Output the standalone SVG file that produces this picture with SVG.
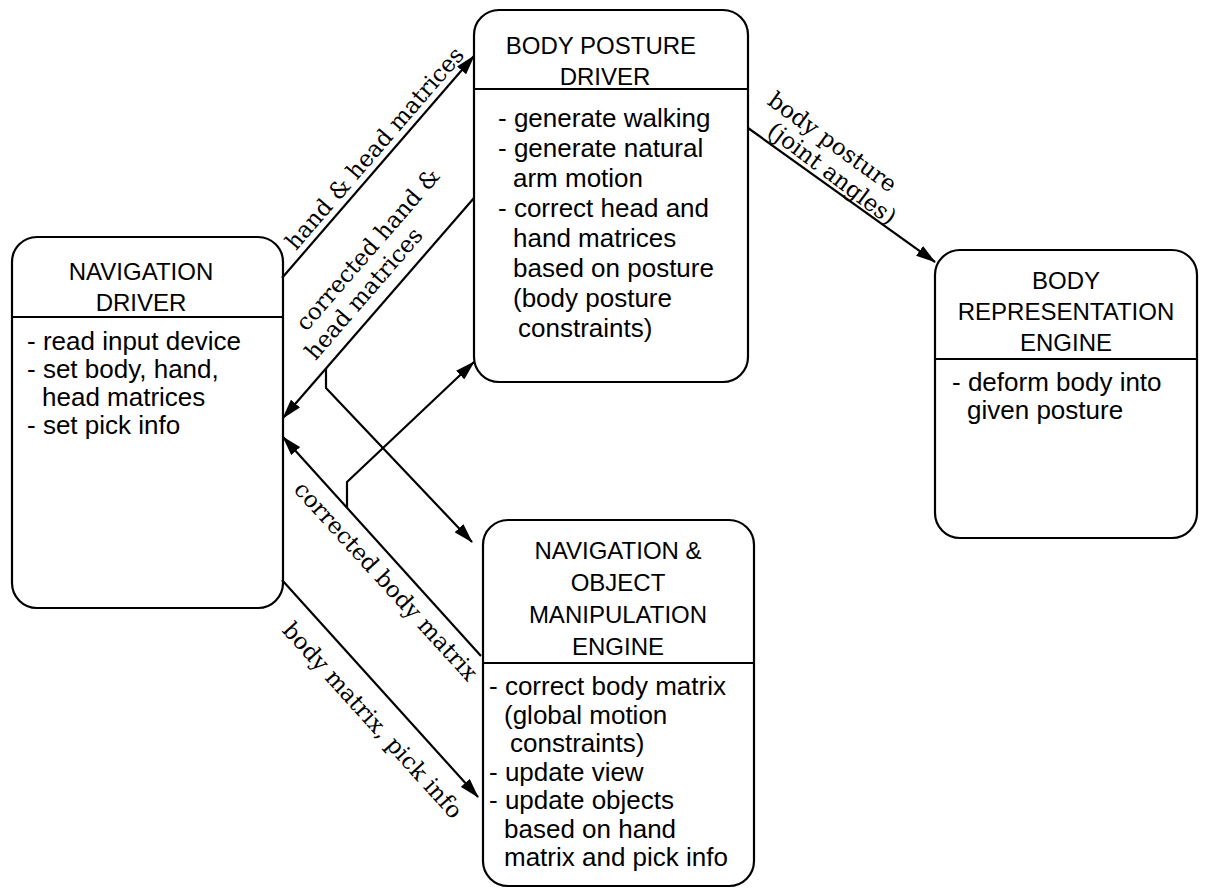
<svg xmlns="http://www.w3.org/2000/svg" width="1209" height="893" viewBox="0 0 1209 893">
  <style>
    .box { fill: #ffffff; stroke: #000000; stroke-width: 2.2; }
    .rule { stroke: #000000; stroke-width: 2.2; }
    .title { font-family: "Liberation Sans", Arial, sans-serif; font-size: 24px; fill: #000000; text-anchor: middle; }
    .body { font-family: "Liberation Sans", Arial, sans-serif; font-size: 26px; fill: #000000; }
    .wire { fill: none; stroke: #000000; stroke-width: 2.2; stroke-linejoin: round; }
    .label { font-family: "DejaVu Serif", "Liberation Serif", serif; font-size: 23px; fill: #000000; text-anchor: middle; }
  </style>
  <defs>
    <marker id="arrow" markerUnits="userSpaceOnUse" markerWidth="20" markerHeight="12" refX="19" refY="6" orient="auto">
      <path d="M0,0 L20,6 L0,12 Z" fill="#000000"/>
    </marker>
  </defs>
  <rect width="1209" height="893" fill="#ffffff"/>

  <!-- Navigation driver -->
  <g id="navigation-driver">
    <rect class="box" x="12" y="237" width="271" height="371" rx="25"/>
    <line class="rule" x1="12" y1="317" x2="283" y2="317"/>
    <text class="title" x="141" y="280">NAVIGATION</text>
    <text class="title" x="141" y="311">DRIVER</text>
    <text class="body" x="27" y="350">- read input device</text>
    <text class="body" x="27" y="378">- set body, hand,</text>
    <text class="body" x="42" y="406">head matrices</text>
    <text class="body" x="27" y="434">- set pick info</text>
  </g>

  <!-- Body posture driver -->
  <g id="body-posture-driver">
    <rect class="box" x="474" y="10" width="274" height="372" rx="25"/>
    <line class="rule" x1="474" y1="89" x2="748" y2="89"/>
    <text class="title" x="601" y="54">BODY POSTURE</text>
    <text class="title" x="605" y="85">DRIVER</text>
    <text class="body" x="498" y="127">- generate walking</text>
    <text class="body" x="498" y="157">- generate natural</text>
    <text class="body" x="513" y="187">arm motion</text>
    <text class="body" x="498" y="217">- correct head and</text>
    <text class="body" x="513" y="247">hand matrices</text>
    <text class="body" x="513" y="277">based on posture</text>
    <text class="body" x="513" y="307">(body posture</text>
    <text class="body" x="518" y="337">constraints)</text>
  </g>

  <!-- Body representation engine -->
  <g id="body-representation-engine">
    <rect class="box" x="935" y="250" width="262" height="288" rx="25"/>
    <line class="rule" x1="935" y1="359" x2="1197" y2="359"/>
    <text class="title" x="1066" y="289">BODY</text>
    <text class="title" x="1066" y="320">REPRESENTATION</text>
    <text class="title" x="1066" y="351">ENGINE</text>
    <text class="body" x="952" y="391">- deform body into</text>
    <text class="body" x="967" y="419">given posture</text>
  </g>

  <!-- Navigation & object manipulation engine -->
  <g id="navigation-object-engine">
    <rect class="box" x="483" y="520" width="271" height="366" rx="25"/>
    <line class="rule" x1="483" y1="663" x2="754" y2="663"/>
    <text class="title" x="618" y="559">NAVIGATION &amp;</text>
    <text class="title" x="618" y="591">OBJECT</text>
    <text class="title" x="618" y="623">MANIPULATION</text>
    <text class="title" x="618" y="655">ENGINE</text>
    <text class="body" x="489" y="695">- correct body matrix</text>
    <text class="body" x="504" y="724">(global motion</text>
    <text class="body" x="510" y="752">constraints)</text>
    <text class="body" x="489" y="781">- update view</text>
    <text class="body" x="489" y="809">- update objects</text>
    <text class="body" x="504" y="838">based on hand</text>
    <text class="body" x="504" y="866">matrix and pick info</text>
  </g>

  <!-- Connectors -->
  <g id="connectors">
    <path class="wire" d="M282,278 L474,56" marker-end="url(#arrow)"/>
    <path class="wire" d="M474,198 L283,418" marker-end="url(#arrow)"/>
    <path class="wire" d="M326,368 L326,388 L472,542" marker-end="url(#arrow)"/>
    <path class="wire" d="M481,656 L283,437" marker-end="url(#arrow)"/>
    <path class="wire" d="M347,508 L347,482 L474,362" marker-end="url(#arrow)"/>
    <path class="wire" d="M282,580 L478,797" marker-end="url(#arrow)"/>
    <path class="wire" d="M748,128 L935,262" marker-end="url(#arrow)"/>

    <text class="label" transform="translate(378,167) rotate(-49.15)" x="12" y="-7">hand &amp; head matrices</text>
    <text class="label" transform="translate(377.5,308) rotate(-49.04)" x="38" y="-38">corrected hand &amp;</text>
    <text class="label" transform="translate(377.5,308) rotate(-49.04)" x="2" y="-12">head matrices</text>
    <text class="label" transform="translate(380,546) rotate(47.65)" x="30" y="27">corrected body matrix</text>
    <text class="label" transform="translate(380,688) rotate(47.9)" x="19" y="35">body matrix, pick info</text>
    <text class="label" transform="translate(841,195) rotate(36)" x="-38" y="-30">body posture</text>
    <text class="label" transform="translate(841,195) rotate(37)" x="-20" y="-4">(joint angles)</text>
  </g>
</svg>
